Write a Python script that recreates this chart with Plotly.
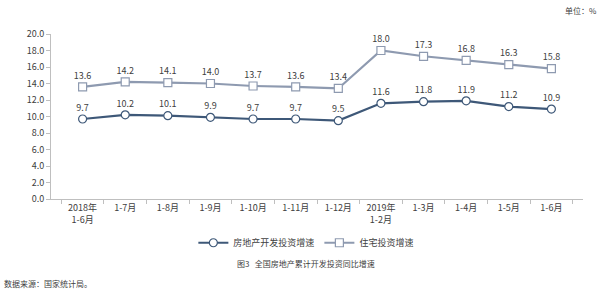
import plotly.graph_objects as go

categories = ["2018年<br>1-6月", "1-7月", "1-8月", "1-9月", "1-10月", "1-11月", "1-12月",
              "2019年<br>1-2月", "1-3月", "1-4月", "1-5月", "1-6月"]
realestate = [9.7, 10.2, 10.1, 9.9, 9.7, 9.7, 9.5, 11.6, 11.8, 11.9, 11.2, 10.9]
residential = [13.6, 14.2, 14.1, 14.0, 13.7, 13.6, 13.4, 18.0, 17.3, 16.8, 16.3, 15.8]
yticks = [0, 2, 4, 6, 8, 10, 12, 14, 16, 18, 20]

FONT = "Microsoft YaHei, Noto Sans CJK SC, sans-serif"
fig = go.Figure()
fig.add_trace(go.Scatter(
    x=categories, y=realestate, mode="lines+markers+text", name="房地产开发投资增速",
    line=dict(color="#3E5878", width=2.2),
    marker=dict(symbol="circle", size=8, color="white", line=dict(color="#3E5878", width=1.2)),
    text=[f"{v:.1f}" for v in realestate], textposition="top center",
    textfont=dict(size=9, color="#404040", family=FONT), cliponaxis=False))
fig.add_trace(go.Scatter(
    x=categories, y=residential, mode="lines+markers+text", name="住宅投资增速",
    line=dict(color="#8E9AB0", width=2.2),
    marker=dict(symbol="square", size=8, color="white", line=dict(color="#8E9AB0", width=1.2)),
    text=[f"{v:.1f}" for v in residential], textposition="top center",
    textfont=dict(size=9, color="#404040", family=FONT), cliponaxis=False))

fig.update_layout(
    width=600, height=292, margin=dict(l=51, r=17, t=34, b=93),
    paper_bgcolor="white", plot_bgcolor="white",
    font=dict(family=FONT, size=9, color="#404040"),
    showlegend=True,
    legend=dict(orientation="h", x=0.48, xanchor="center", y=-0.265, yanchor="middle",
                font=dict(size=9, color="#404040"), itemwidth=30),
    xaxis=dict(type="category", showline=True, linecolor="#BFBFBF", linewidth=1,
               ticks="outside", tickcolor="#BFBFBF", ticklen=4, tickson="boundaries",
               showgrid=False, tickfont=dict(size=9, color="#404040"), tickangle=0),
    yaxis=dict(range=[0, 20], tickvals=yticks, ticktext=[f"{v:.1f}" for v in yticks],
               showline=True, linecolor="#BFBFBF", linewidth=1, ticks="outside",
               tickcolor="#BFBFBF", ticklen=4, showgrid=False, zeroline=False,
               tickfont=dict(size=9, color="#404040")),
    annotations=[
        dict(text="单位：%", xref="paper", yref="paper", x=1.03, y=1.14,
             xanchor="right", yanchor="middle", showarrow=False,
             font=dict(size=8, color="#404040")),
        dict(text="图3   全国房地产累计开发投资同比增速", xref="paper", yref="paper",
             x=0.48, y=-0.39, xanchor="center", yanchor="middle", showarrow=False,
             font=dict(size=8, color="#404040")),
        dict(text="数据来源：国家统计局。", xref="paper", yref="paper",
             x=-0.092, y=-0.51, xanchor="left", yanchor="middle", showarrow=False,
             font=dict(size=8, color="#404040")),
    ],
)
fig.write_html("out.html")
